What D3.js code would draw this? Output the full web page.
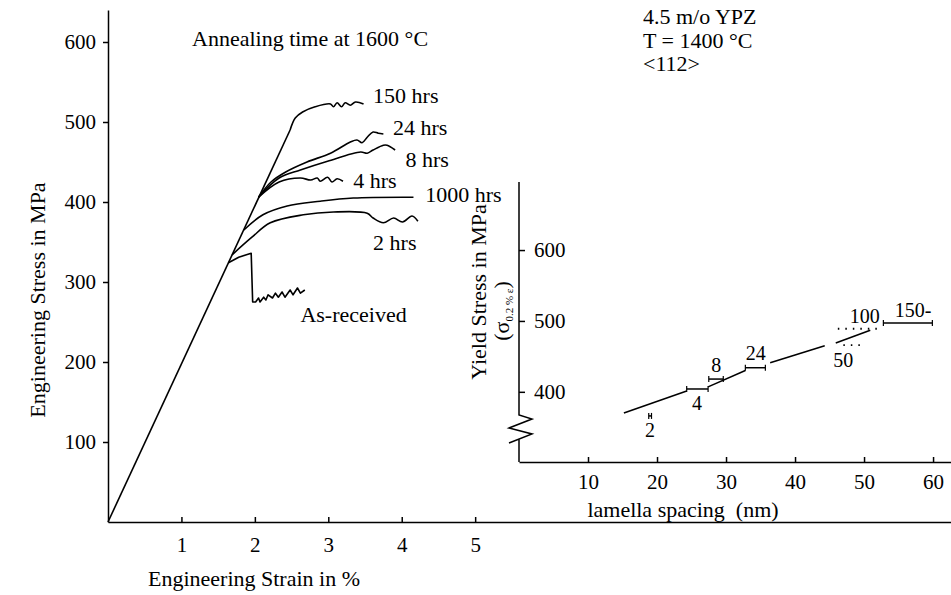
<!DOCTYPE html>
<html><head><meta charset="utf-8">
<script src="https://cdn.jsdelivr.net/npm/d3@7"></script>
<style>
html,body{margin:0;padding:0;background:#fff;}
svg{display:block;font-family:"Liberation Serif","Times New Roman",serif;}
</style></head><body>
<svg id="c" width="951" height="595"></svg>
<script>
// ---------- main chart data: [strain %, stress MPa] ----------
const strainTicks = [1, 2, 3, 4, 5];
const stressTicks = [100, 200, 300, 400, 500, 600];
const elasticLine = [[0, 0], [2.48, 490]];
const asReceived = [[1.64,324],[1.78,331],[1.95,336],[1.97,275],[2.01,275],[2.05,280],[2.07,275],[2.12,281],[2.15,277.5],[2.18,284],[2.24,280],[2.28,286],[2.32,281],[2.37,287.5],[2.41,281],[2.48,290],[2.52,284],[2.58,292.5],[2.62,286],[2.68,290]];
const hrs2 = [[1.69,334],[1.96,356],[2.21,374],[2.66,384],[3.07,387.5],[3.53,386],[3.61,380],[3.75,374],[3.89,380],[4.01,375],[4.14,382.5],[4.22,376]];
const hrs1000 = [[1.85,365],[2.11,384],[2.44,395],[2.89,401],[3.34,405],[4.16,406]];
const hrs4 = [[2.05,406],[2.33,425],[2.62,430],[2.76,427.5],[2.85,430],[2.89,426],[2.99,431],[3.05,425],[3.12,429],[3.20,426]];
const hrs8 = [[2.05,406],[2.33,430],[2.62,440],[2.99,451],[3.44,462.5],[3.53,461],[3.61,465],[3.75,471],[3.80,471],[3.91,465]];
const hrs24 = [[2.05,406],[2.22,425],[2.42,437.5],[2.71,450],[3.03,461],[3.30,475],[3.39,477.5],[3.46,474],[3.53,481],[3.61,487.5],[3.68,486],[3.75,485]];
const hrs150 = [[2.48,490],[2.55,505],[2.65,512.5],[2.82,519],[3.03,522.5],[3.07,519],[3.12,524],[3.18,519],[3.23,524],[3.30,521],[3.37,525],[3.48,522.5]];
const curveLabels = ["150 hrs","24 hrs","8 hrs","4 hrs","1000 hrs","2 hrs","As-received"];
const curveLabelAt = [[3.61,524],[3.88,484],[4.05,444],[3.34,417],[4.32,400],[3.61,340],[2.62,250]];

// ---------- inset data: lamella spacing (nm) vs yield stress (MPa) ----------
const spacingTicks = [10, 20, 30, 40, 50, 60];
const yieldTicks = [400, 500, 600];
const fitSegments = [[[15.2,370],[24.3,401]],[[27.4,407],[32.8,430]],[[36.4,441],[44.3,465]],[[45.9,469],[50.9,487]]];
const barHours   = ["2", "4", "8", "24", "150"];
const barSpacing = [19.0, 25.8, 28.6, 34.2, 56.4];
const barStress  = [366, 404, 418, 434, 497];
const barLow     = [18.8, 24.3, 27.5, 32.8, 52.8];
const barHigh    = [19.2, 27.4, 29.6, 35.7, 59.9];
const dottedBars = [[47.0, 49.4, 466], [46.2, 52.0, 489]];
const pointLabels = ["2","4","8","24","50","100","150-"];
const pointLabelAt = [[19.0,336.6],[25.8,374.6],[28.6,428],[34.3,445],[47.0,435],[50.1,497],[57.1,505.6]];

const svg = d3.select("#c");
svg.append("rect").attr("width",951).attr("height",595).attr("fill","#fff");
const FS = 22;

// scales
const x = d3.scaleLinear().domain([0, 11.48]).range([108, 951]);
const y = d3.scaleLinear().domain([0, 640]).range([522, 10]);
const xi = d3.scaleLinear().domain([0, 62.6]).range([519, 951]);
const yi = d3.scaleLinear().domain([301, 696]).range([462, 182]);

function styleAxis(g){
  g.selectAll("path,line").attr("stroke","#000").attr("stroke-width",1.5);
  g.selectAll("text").attr("font-family","Liberation Serif, Times New Roman, serif").attr("font-size",21).attr("fill","#000");
}

// main axes
svg.append("g").attr("transform","translate(0,522)")
  .call(d3.axisBottom(x).tickValues(strainTicks).tickSizeInner(-5).tickSizeOuter(0).tickPadding(15).tickFormat(d3.format("d")))
  .call(styleAxis);
svg.append("g").attr("transform","translate(108,0)")
  .call(d3.axisLeft(y).tickValues(stressTicks).tickSizeInner(5).tickSizeOuter(0).tickPadding(7).tickFormat(d3.format("d")))
  .call(styleAxis);

// curves
const line = d3.line().x(d => x(d[0])).y(d => y(d[1]));
const smooth = d3.line().x(d => x(d[0])).y(d => y(d[1])).curve(d3.curveCatmullRom.alpha(0.5));
const lineStyle = p => p.attr("fill","none").attr("stroke","#000").attr("stroke-width",1.6).attr("stroke-linejoin","round");
svg.append("path").attr("d", line(elasticLine)).call(lineStyle);
svg.append("path").attr("d", line(asReceived)).call(lineStyle);
[hrs2, hrs1000, hrs4, hrs8, hrs24, hrs150].forEach(c => svg.append("path").attr("d", smooth(c)).call(lineStyle));

curveLabels.forEach((t,i) => {
  svg.append("text").attr("x", x(curveLabelAt[i][0])).attr("y", y(curveLabelAt[i][1]))
    .attr("font-size",FS).attr("fill","#000").text(t);
});

svg.append("text").attr("x",192).attr("y",46).attr("font-size",FS).text("Annealing time at 1600 °C");
svg.append("text").attr("x",148).attr("y",586).attr("font-size",FS).text("Engineering Strain in %");
svg.append("text").attr("transform","translate(45,300) rotate(-90)").attr("text-anchor","middle").attr("font-size",FS).text("Engineering Stress in MPa");

["4.5 m/o YPZ","T = 1400 °C","<112>"].forEach((t,i) => {
  svg.append("text").attr("x",643).attr("y",24 + i*23.5).attr("font-size",FS).text(t);
});

// inset axes
svg.append("g").attr("transform","translate(0,462)")
  .call(d3.axisBottom(xi).tickValues(spacingTicks).tickSizeInner(-5).tickSizeOuter(0).tickPadding(12).tickFormat(d3.format("d")))
  .call(styleAxis);
const gyi = svg.append("g").attr("transform","translate(519,0)")
  .call(d3.axisRight(yi).tickValues(yieldTicks).tickSizeInner(6).tickSizeOuter(0).tickPadding(9).tickFormat(d3.format("d")))
  .call(styleAxis);
gyi.select(".domain").remove();
svg.append("path").attr("d","M519,182 V415 L532,419 L509,428 L532,434 L509,443 M519,439 V462")
  .attr("fill","none").attr("stroke","#000").attr("stroke-width",1.5);

svg.append("text").attr("transform","translate(486,292) rotate(-90)").attr("text-anchor","middle").attr("font-size",FS).text("Yield Stress in MPa");
const sig = svg.append("text").attr("transform","translate(509,311) rotate(-90)").attr("text-anchor","middle").attr("font-size",FS);
sig.append("tspan").text("(σ");
sig.append("tspan").attr("font-size",11).attr("dy",4).text("0.2 % ε");
sig.append("tspan").attr("dy",-4).text(")");
svg.append("text").attr("x",683).attr("y",517).attr("text-anchor","middle").attr("font-size",FS).style("white-space","pre").text("lamella spacing  (nm)");

// inset fit line
const li = d3.line().x(d => xi(d[0])).y(d => yi(d[1]));
fitSegments.forEach(s => svg.append("path").attr("d", li(s)).call(lineStyle));
// error bars
barHours.forEach((h,i) => {
  const yy = yi(barStress[i]);
  svg.append("line").attr("x1",xi(barLow[i])).attr("x2",xi(barHigh[i])).attr("y1",yy).attr("y2",yy).attr("stroke","#000").attr("stroke-width",1.5);
  [barLow[i], barHigh[i]].forEach(v => svg.append("line").attr("x1",xi(v)).attr("x2",xi(v)).attr("y1",yy-3).attr("y2",yy+3).attr("stroke","#000").attr("stroke-width",1.2));
});
dottedBars.forEach(b => {
  svg.append("line").attr("x1",xi(b[0])).attr("x2",xi(b[1])).attr("y1",yi(b[2])).attr("y2",yi(b[2]))
    .attr("stroke","#000").attr("stroke-width",1.8).attr("stroke-dasharray","1.5,6");
});
pointLabels.forEach((t,i) => {
  svg.append("text").attr("x", xi(pointLabelAt[i][0])).attr("y", yi(pointLabelAt[i][1]))
    .attr("text-anchor","middle").attr("font-size",20).text(t);
});
</script>
</body></html>
